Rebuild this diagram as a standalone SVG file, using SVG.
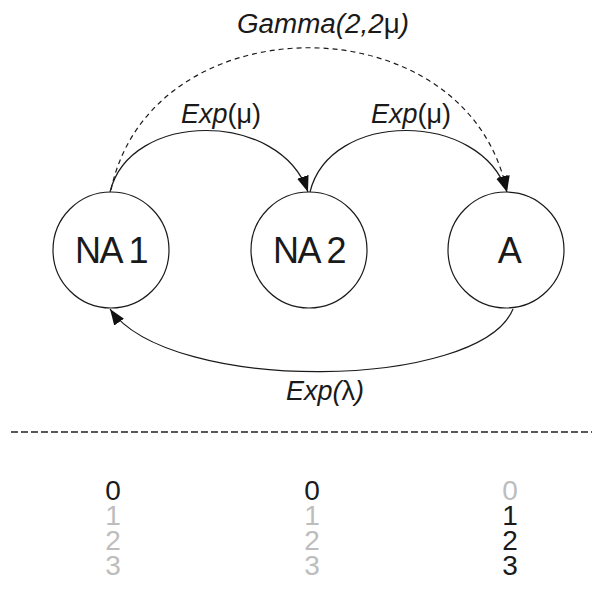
<svg xmlns="http://www.w3.org/2000/svg" width="596" height="591" viewBox="0 0 596 591">
<style>
.node{fill:none;stroke:#1a1a1a;stroke-width:1.2}
.lbl{font-family:"Liberation Sans",Arial,sans-serif;font-size:36px;fill:#1a1a1a;text-anchor:middle;letter-spacing:-1.5px}
.edge{fill:none;stroke:#1a1a1a;stroke-width:1.2}
.dash{stroke-dasharray:5,4}
.elbl{font-family:"Liberation Sans",Arial,sans-serif;font-size:27px;font-style:italic;fill:#1a1a1a;text-anchor:middle}
.up{font-style:normal}
.num{font-family:"Liberation Sans",Arial,sans-serif;font-size:28px;text-anchor:middle}
.on{fill:#1a1a1a}
.off{fill:#bdbdbd}
</style>
<defs>
<marker id="arr" markerUnits="userSpaceOnUse" markerWidth="17" markerHeight="13" refX="16" refY="6" orient="auto" viewBox="0 0 17 13">
<path d="M0,0 L16,6 L0,12 z" fill="#111"/>
</marker>
</defs>
<g id="connectors">
<path class="edge" d="M110,192 C130,110 280,110 308,192" marker-end="url(#arr)"/>
<path class="edge" d="M310,192 C330,110 480,110 507,192" marker-end="url(#arr)"/>
<path class="edge dash" d="M111,190 C151,0 468,0 507,192" marker-end="url(#arr)"/>
<path class="edge" d="M513,309 C480,390 170,395 110,309" marker-end="url(#arr)"/>
<text class="elbl" x="221" y="123">Exp<tspan class="up">(μ)</tspan></text>
<text class="elbl" x="411" y="123">Exp<tspan class="up">(μ)</tspan></text>
<text class="elbl" x="323" y="33" textLength="172" lengthAdjust="spacingAndGlyphs">Gamma(2,2<tspan class="up">μ</tspan>)</text>
<text class="elbl" x="325" y="400">Exp(<tspan class="up">λ</tspan>)</text>
</g>
<g id="NA1">
<circle class="node" cx="111" cy="250" r="58"/>
<text class="lbl" x="111" y="263">NA 1</text>
</g>
<g id="NA2">
<circle class="node" cx="309" cy="250" r="58"/>
<text class="lbl" x="309" y="263">NA 2</text>
</g>
<g id="A">
<circle class="node" cx="506" cy="250" r="58"/>
<text class="lbl" x="509" y="263">A</text>
</g>
<line x1="11" y1="432" x2="592" y2="432" stroke="#222" stroke-width="1.3" stroke-dasharray="7,3"/>
<g id="states">
<text class="num on" x="113" y="500">0</text>
<text class="num off" x="113" y="525">1</text>
<text class="num off" x="113" y="550">2</text>
<text class="num off" x="113" y="575">3</text>
<text class="num on" x="312" y="500">0</text>
<text class="num off" x="312" y="525">1</text>
<text class="num off" x="312" y="550">2</text>
<text class="num off" x="312" y="575">3</text>
<text class="num off" x="510" y="500">0</text>
<text class="num on" x="510" y="525">1</text>
<text class="num on" x="510" y="550">2</text>
<text class="num on" x="510" y="575">3</text>
</g>
</svg>
